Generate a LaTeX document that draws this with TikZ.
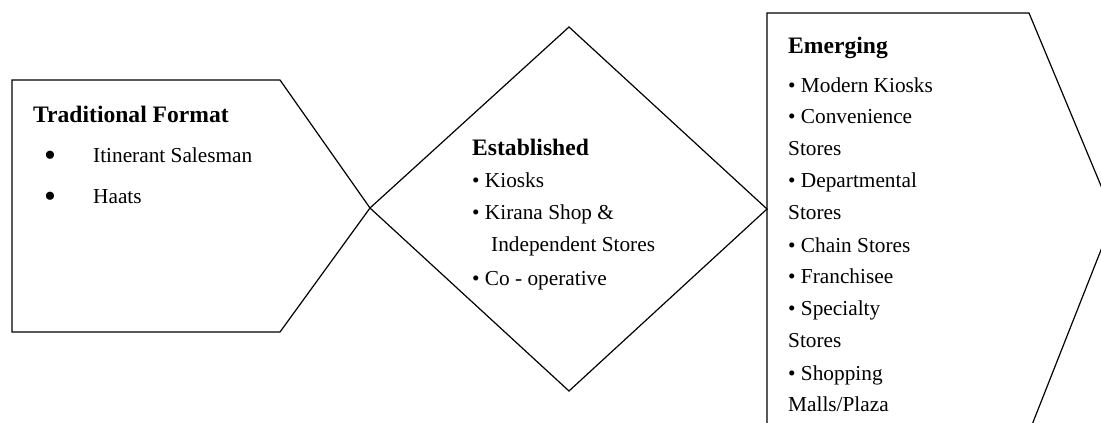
\documentclass[tikz,border=0pt]{standalone}
\usepackage{fontspec}
\setmainfont{Liberation Serif}
\begin{document}
\begin{tikzpicture}[x=1pt,y=-1pt,
  shp/.style={draw=black,line width=1.2pt,line join=miter},
  body/.style={inner sep=0pt,anchor=base west,font=\fontsize{21.3}{32}\selectfont},
  head/.style={inner sep=0pt,anchor=base west,font=\fontsize{23.6}{32}\selectfont\bfseries},
  bigbul/.style={inner sep=0pt,anchor=base west,font=\fontsize{34}{34}\selectfont}]
\useasboundingbox (0,0) rectangle (1101,423);
\begin{scope}
\clip (0,0) rectangle (1101,423);
% shapes
\draw[shp] (12,80) -- (280,80) -- (370,208) -- (280,332) -- (12,332) -- cycle;
\draw[shp] (569,27) -- (767,209) -- (569,391) -- (370,208) -- cycle;
\draw[shp] (767,13) -- (1029,13) -- (1114,217) -- (1026,440) -- (767,440) -- cycle;
\end{scope}
% Traditional
\node[head] (th) at (33,122) {Traditional Format};
\node[bigbul] (tb1) at (44,166) {•};
\node[body] (t1) at (93,162) {Itinerant Salesman};
\node[bigbul] (tb2) at (44,207) {•};
\node[body] (t2) at (93,203) {Haats};
% Established
\node[head] (eh) at (472,155) {Established};
\node[body] (e1) at (472,187) {• Kiosks};
\node[body] (e2) at (472,219) {• Kirana Shop \&};
\node[body] (e3) at (491,251) {Independent Stores};
\node[body] (e4) at (472,285) {• Co - operative};
% Emerging
\node[head] (mh) at (788,53) {Emerging};
\node[body] (m1) at (788,92) {• Modern Kiosks};
\node[body] (m2) at (788,123) {• Convenience};
\node[body] (m3) at (788,155) {Stores};
\node[body] (m4) at (788,187) {• Departmental};
\node[body] (m5) at (788,219) {Stores};
\node[body] (m6) at (788,252) {• Chain Stores};
\node[body] (m7) at (788,283) {• Franchisee};
\node[body] (m8) at (788,315) {• Specialty};
\node[body] (m9) at (788,347) {Stores};
\node[body] (m10) at (788,380) {• Shopping};
\node[body] (m11) at (788,411) {Malls/Plaza};
\end{tikzpicture}
\end{document}
